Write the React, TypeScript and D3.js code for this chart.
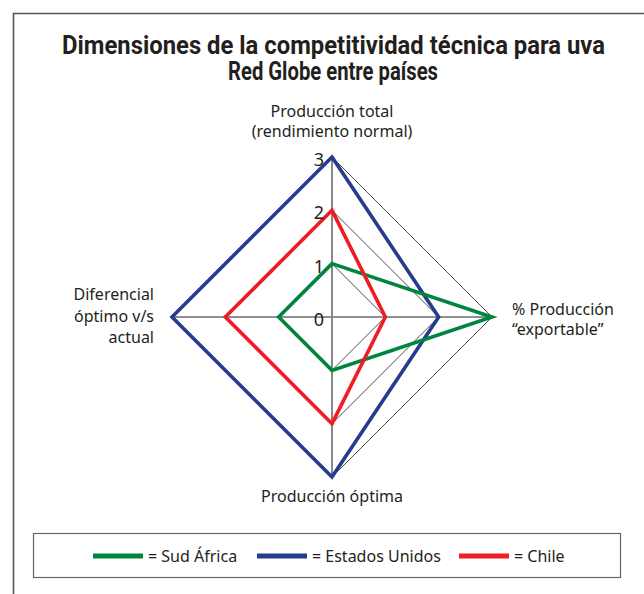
import * as d3 from 'd3';

const axisLabels = [
  ['Producción total', '(rendimiento normal)'],
  ['% Producción', '“exportable”'],
  ['Producción óptima'],
  ['Diferencial', 'óptimo v/s', 'actual'],
];
const sudAfrica = [1, 3, 1, 1];
const estadosUnidos = [3, 2, 3, 3];
const chile = [2, 1, 2, 2];
const ticks = [0, 1, 2, 3];

const series = [
  { name: 'Estados Unidos', values: estadosUnidos, color: '#253b8e' },
  { name: 'Sud África', values: sudAfrica, color: '#00853f' },
  { name: 'Chile', values: chile, color: '#ee1c25' },
];
const legendOrder = ['Sud África', 'Estados Unidos', 'Chile'];

const W = 644;
const H = 594;
const cx = 332;
const cy = 317;
const r = d3.scaleLinear().domain([0, 3]).range([0, 160]);
const angle = (i: number) => (i * Math.PI) / 2;

const radial = d3
  .lineRadial<number>()
  .angle((_, i) => angle(i))
  .radius(d => r(d))
  .curve(d3.curveLinearClosed);

const font = '"Noto Sans", sans-serif';
const textColor = '#231f20';

export default function App() {
  const n = axisLabels.length;
  return (
    <svg width={W} height={H} style={{ position: 'absolute', left: 0, top: 0 }}>
      <rect width={W} height={H} fill="#fff" />
      {/* frame */}
      <path d={`M13.5,${H} V13.5 H${W}`} fill="none" stroke="#555" strokeWidth={1.6} />

      {/* condensed bold title: squeeze Roboto to the reference width */}
      <g fontFamily="Roboto, sans-serif" fontWeight="bold" fontSize={25} fill={textColor}>
        <text x={62} y={54} textLength={543} lengthAdjust="spacingAndGlyphs">
          Dimensiones de la competitividad técnica para uva
        </text>
        <text x={228} y={80} textLength={210} lengthAdjust="spacingAndGlyphs">
          Red Globe entre países
        </text>
      </g>

      <g transform={`translate(${cx},${cy})`}>
        {ticks.slice(1).map(t => (
          <path key={t} d={radial(d3.range(n).map(() => t)) || ''} fill="none" stroke="#222" strokeWidth={0.8} />
        ))}
        <line x1={-r(3)} x2={r(3)} y1={0} y2={0} stroke="#222" strokeWidth={1} />
        <line x1={0} x2={0} y1={-r(3)} y2={r(3)} stroke="#888" strokeWidth={2} />

        {series.map(s => (
          <path key={s.name} d={radial(s.values) || ''} fill="none" stroke={s.color} strokeWidth={3.6} strokeLinejoin="miter" strokeMiterlimit={10} />
        ))}

        {ticks.map(t => (
          <text key={t} x={-8} y={-r(t) + 9} textAnchor="end" fontFamily={font} fontSize={18} fill={textColor}>
            {t}
          </text>
        ))}
      </g>

      <g fontFamily={font} fontSize={16} fill={textColor}>
        <text x={cx} y={117} textAnchor="middle">
          {axisLabels[0].map((l, i) => (
            <tspan key={i} x={cx} dy={i ? 20 : 0}>{l}</tspan>
          ))}
        </text>
        <text x={512} y={315}>
          {axisLabels[1].map((l, i) => (
            <tspan key={i} x={512} dy={i ? 20 : 0}>{l}</tspan>
          ))}
        </text>
        <text x={cx} y={502} textAnchor="middle">{axisLabels[2][0]}</text>
        <text x={154} y={300} textAnchor="end">
          {axisLabels[3].map((l, i) => (
            <tspan key={i} x={154} dy={i ? 21.5 : 0}>{l}</tspan>
          ))}
        </text>
      </g>

      {/* legend */}
      <rect x={33.5} y={533.5} width={587} height={44} fill="#fff" stroke="#666" strokeWidth={1.2} />
      {legendOrder.map((name, i) => {
        const s = series.find(d => d.name === name)!;
        const x0 = [93, 257, 459][i];
        return (
          <g key={name}>
            <line x1={x0} x2={x0 + 50} y1={556} y2={556} stroke={s.color} strokeWidth={5} />
            <text x={x0 + 55} y={561.5} fontFamily={font} fontSize={16} fill={textColor}>= {name}</text>
          </g>
        );
      })}
    </svg>
  );
}
